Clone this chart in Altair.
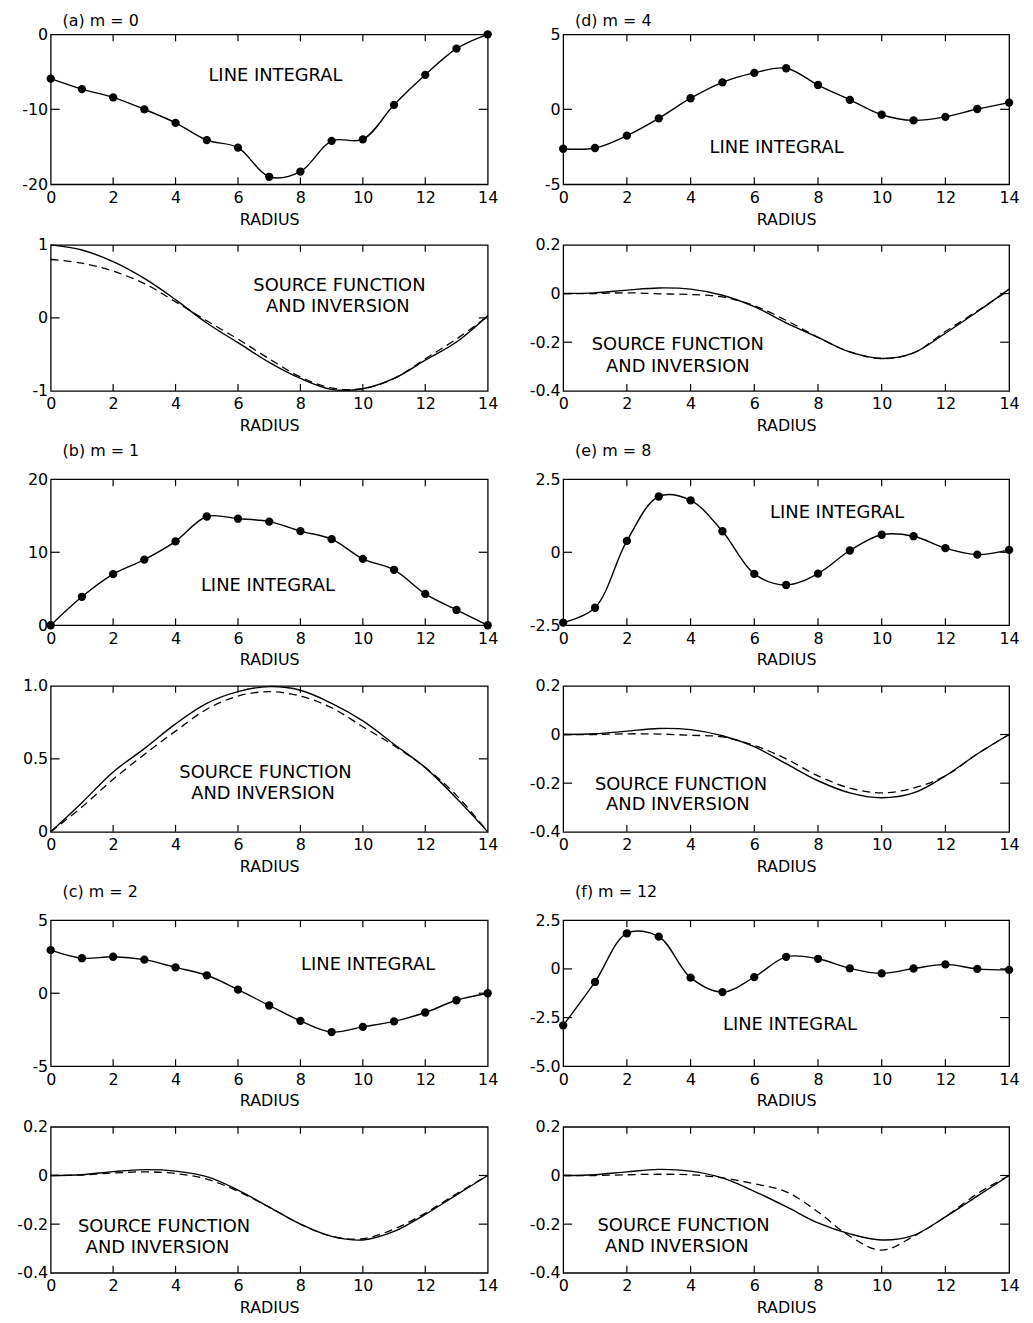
import altair as alt
import pandas as pd

FONT = "DejaVu Sans"
R = list(range(15))
XTICKS = [0, 2, 4, 6, 8, 10, 12, 14]
XINNER = [2, 4, 6, 8, 10, 12]

# ---- (a) m = 0 ----
a_li = [-5.9, -7.3, -8.4, -10.0, -11.8, -14.1, -15.1, -19.0, -18.3, -14.2, -14.0, -9.4, -5.4, -1.9, 0.0]
a_src = [1.0, 0.93, 0.77, 0.54, 0.25, -0.07, -0.34, -0.61, -0.83, -0.98, -0.97, -0.83, -0.58, -0.33, 0.03]
a_inv = [0.80, 0.75, 0.64, 0.47, 0.22, -0.04, -0.29, -0.56, -0.81, -0.96, -0.97, -0.83, -0.56, -0.29, 0.02]

# ---- (b) m = 1 ----
b_li = [0.0, 3.9, 7.0, 9.0, 11.5, 14.9, 14.6, 14.2, 12.9, 11.8, 9.1, 7.6, 4.3, 2.1, 0.0]
b_src = [0.0, 0.20, 0.41, 0.57, 0.74, 0.88, 0.96, 0.995, 0.97, 0.88, 0.76, 0.60, 0.44, 0.23, 0.0]
b_inv = [0.0, 0.17, 0.36, 0.53, 0.69, 0.84, 0.93, 0.96, 0.93, 0.85, 0.72, 0.59, 0.44, 0.25, 0.0]

# ---- (c) m = 2 ----
c_li = [2.95, 2.4, 2.5, 2.3, 1.77, 1.23, 0.25, -0.84, -1.89, -2.66, -2.3, -1.93, -1.32, -0.48, 0.0]
c_src = [0.0, 0.003, 0.016, 0.024, 0.018, -0.005, -0.06, -0.13, -0.20, -0.25, -0.265, -0.23, -0.16, -0.08, 0.0]
c_inv = [0.0, 0.002, 0.010, 0.015, 0.008, -0.015, -0.065, -0.13, -0.20, -0.25, -0.26, -0.22, -0.155, -0.075, 0.0]

# ---- (d) m = 4 ----
d_li = [-2.63, -2.58, -1.75, -0.6, 0.74, 1.8, 2.43, 2.74, 1.62, 0.63, -0.36, -0.74, -0.5, 0.02, 0.45]
d_src = [0.0, 0.003, 0.014, 0.023, 0.018, -0.007, -0.054, -0.12, -0.18, -0.24, -0.267, -0.244, -0.163, -0.075, 0.018]
d_inv = [0.0, 0.0, 0.003, -0.001, -0.004, -0.014, -0.05, -0.11, -0.18, -0.24, -0.267, -0.244, -0.156, -0.072, 0.014]

# ---- (e) m = 8 ----
e_li = [-2.41, -1.9, 0.39, 1.91, 1.78, 0.72, -0.74, -1.12, -0.73, 0.06, 0.6, 0.55, 0.14, -0.08, 0.08]
e_src = [0.0, 0.003, 0.014, 0.025, 0.02, -0.005, -0.05, -0.12, -0.19, -0.24, -0.26, -0.24, -0.17, -0.08, 0.0]
e_inv = [0.0, 0.0, 0.003, 0.002, -0.003, -0.01, -0.045, -0.10, -0.17, -0.22, -0.24, -0.22, -0.17, -0.08, 0.0]

# ---- (f) m = 12 ----
f_li = [-2.9, -0.67, 1.83, 1.66, -0.45, -1.19, -0.42, 0.62, 0.52, 0.03, -0.23, 0.02, 0.23, 0.0, -0.05]
f_src = [0.0, 0.003, 0.015, 0.025, 0.018, -0.01, -0.065, -0.128, -0.195, -0.24, -0.265, -0.246, -0.17, -0.085, 0.0]
f_inv = [0.0, 0.0, 0.003, 0.005, 0.003, -0.01, -0.034, -0.067, -0.15, -0.25, -0.307, -0.25, -0.17, -0.075, 0.0]

LI_TEXT = "LINE INTEGRAL"
SF_TEXT = ["SOURCE FUNCTION", "AND INVERSION"]

FMT_INT = "(datum.value < 0 ? '-' : '') + format(abs(datum.value), 'd')"
FMT_DEC = "datum.value == 0 ? '0' : (datum.value < 0 ? '-' : '') + format(abs(datum.value), '.1f')"


def panel(domain, ylabels, yinner, fmt, texts, W, H, li=None, src=None, inv=None, title=None,
          toff=12):
    xs = alt.Scale(domain=[0, 14], nice=False, zero=False)
    ys = alt.Scale(domain=domain, nice=False, zero=False)
    xaxis = alt.Axis(values=XTICKS, title="RADIUS", labelFlush=False, labelPadding=5,
                     titlePadding=6, labelExpr=FMT_INT)
    yaxis = alt.Axis(values=ylabels, title=None, labelExpr=fmt, labelPadding=3,
                     minExtent=37, maxExtent=37)
    X = lambda f: alt.X(f, scale=xs, axis=xaxis)
    Y = lambda f: alt.Y(f, scale=ys, axis=yaxis)
    layers = []
    if li is not None:
        df = pd.DataFrame({"r": R, "v": li})
        line = alt.Chart(df).mark_line(color="black", strokeWidth=1.4, interpolate="catmull-rom").encode(
            x=X("r:Q"), y=Y("v:Q"))
        pts = alt.Chart(df).mark_circle(color="black", size=70, opacity=1).encode(
            x=X("r:Q"), y=Y("v:Q"))
        layers += [line, pts]
    else:
        df1 = pd.DataFrame({"r": R, "v": src})
        df2 = pd.DataFrame({"r": R, "v": inv})
        l1 = alt.Chart(df1).mark_line(color="black", strokeWidth=1.4, interpolate="catmull-rom").encode(
            x=X("r:Q"), y=Y("v:Q"))
        l2 = alt.Chart(df2).mark_line(color="black", strokeWidth=1.3, strokeDash=[8, 5],
                                      interpolate="catmull-rom").encode(
            x=X("r:Q"), y=Y("v:Q"))
        layers += [l1, l2]
    tx = pd.DataFrame({"r": XINNER})
    ty = pd.DataFrame({"v": yinner})
    tl = 7
    layers.append(alt.Chart(tx).mark_rule(color="black", strokeWidth=1.2).encode(
        x=X("r:Q"), y=alt.value(0), y2=alt.value(tl)))
    layers.append(alt.Chart(tx).mark_rule(color="black", strokeWidth=1.2).encode(
        x=X("r:Q"), y=alt.value(H), y2=alt.value(H - tl)))
    layers.append(alt.Chart(ty).mark_rule(color="black", strokeWidth=1.2).encode(
        y=Y("v:Q"), x=alt.value(0), x2=alt.value(tl + 2)))
    layers.append(alt.Chart(ty).mark_rule(color="black", strokeWidth=1.2).encode(
        y=Y("v:Q"), x=alt.value(W), x2=alt.value(W - tl - 2)))
    tdf = pd.DataFrame(texts, columns=["r", "v", "label"])
    layers.append(alt.Chart(tdf).mark_text(font=FONT, fontSize=18, color="black", align="center",
                                           baseline="middle").encode(
        x=X("r:Q"), y=Y("v:Q"), text="label:N"))
    ch = alt.layer(*layers).properties(width=W, height=H)
    if title:
        ch = ch.properties(title=alt.TitleParams(text=title, anchor="start", frame="group", dx=12,
                                                 offset=toff, fontSize=16, fontWeight="normal",
                                                 font=FONT, color="black"))
    return ch


WL, WR, H = 440, 449, 147

pa1 = panel([-20, 0], [-20, -10, 0], [-10], FMT_INT, [(7.2, -5.5, LI_TEXT)], WL, 151, li=a_li,
            title="(a)   m = 0", toff=-3)
pa2 = panel([-1, 1], [-1, 0, 1], [0], FMT_INT,
            [(9.25, 0.44, SF_TEXT[0]), (9.2, 0.15, SF_TEXT[1])], WL, H, src=a_src, inv=a_inv)
pb1 = panel([0, 20], [0, 10, 20], [10], FMT_INT, [(6.96, 5.4, LI_TEXT)], WL, H, li=b_li,
            title="(b)  m = 1")
pb2 = panel([0, 1], [0, 0.5, 1.0], [0.5], FMT_DEC,
            [(6.88, 0.40, SF_TEXT[0]), (6.8, 0.26, SF_TEXT[1])], WL, H, src=b_src, inv=b_inv)
pc1 = panel([-5, 5], [-5, 0, 5], [0], FMT_INT, [(10.17, 1.93, LI_TEXT)], WL, H, li=c_li,
            title="(c)   m = 2")
pc2 = panel([-0.4, 0.2], [-0.4, -0.2, 0, 0.2], [-0.2, 0], FMT_DEC,
            [(3.63, -0.213, SF_TEXT[0]), (3.42, -0.30, SF_TEXT[1])], WL, H, src=c_src, inv=c_inv)

pd1 = panel([-5, 5], [-5, 0, 5], [0], FMT_INT, [(6.7, -2.6, LI_TEXT)], WR, 151, li=d_li,
            title="(d)   m = 4", toff=-3)
pd2 = panel([-0.4, 0.2], [-0.4, -0.2, 0, 0.2], [-0.2, 0], FMT_DEC,
            [(3.6, -0.21, SF_TEXT[0]), (3.6, -0.30, SF_TEXT[1])], WR, H, src=d_src, inv=d_inv)
pe1 = panel([-2.5, 2.5], [-2.5, 0, 2.5], [0], FMT_DEC, [(8.6, 1.34, LI_TEXT)], WR, H, li=e_li,
            title="(e)   m = 8")
pe2 = panel([-0.4, 0.2], [-0.4, -0.2, 0, 0.2], [-0.2, 0], FMT_DEC,
            [(3.7, -0.207, SF_TEXT[0]), (3.6, -0.29, SF_TEXT[1])], WR, H, src=e_src, inv=e_inv)
pf1 = panel([-5, 2.5], [-5, -2.5, 0, 2.5], [-2.5, 0], FMT_DEC, [(7.12, -2.9, LI_TEXT)], WR, H, li=f_li,
            title="(f)   m = 12")
pf2 = panel([-0.4, 0.2], [-0.4, -0.2, 0, 0.2], [-0.2, 0], FMT_DEC,
            [(3.78, -0.209, SF_TEXT[0]), (3.57, -0.296, SF_TEXT[1])], WR, H, src=f_src, inv=f_inv)

rows = [alt.hconcat(l, r, spacing=27) for l, r in
        [(pa1, pd1), (pa2, pd2), (pb1, pe1), (pb2, pe2), (pc1, pf1), (pc2, pf2)]]

chart = alt.vconcat(*rows, spacing=8).properties(
    padding={"top": 0, "left": 5, "right": 5, "bottom": 0}, background="white"
).configure_view(stroke="black", strokeWidth=1.3).configure_axis(
    domain=False, ticks=False, grid=False, labelFont=FONT, titleFont=FONT, labelFontSize=16,
    titleFontSize=16, titleFontWeight="normal", labelColor="black", titleColor="black"
)

chart.save("out.html", embed_options={"renderer": "svg", "actions": False})
